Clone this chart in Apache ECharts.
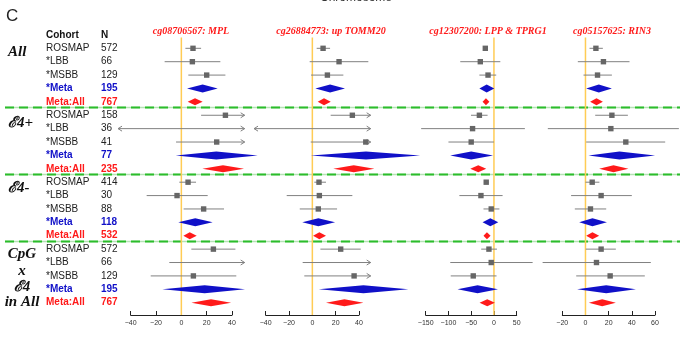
<!DOCTYPE html>
<html>
<head>
<meta charset="utf-8">
<script src="https://cdn.jsdelivr.net/npm/echarts@6/dist/echarts.min.js"></script>
<style>
  html, body { margin: 0; padding: 0; background: #fff; }
  #chart { width: 680px; height: 337px; }
</style>
</head>
<body>
<div id="chart"></div>
<script>
// rows: 4 groups x (ROSMAP, *LBB, *MSBB, *Meta, Meta:All)
var cohorts = ['ROSMAP', '*LBB', '*MSBB', '*Meta', 'Meta:All'];
var sizes = [572, 66, 129, 195, 767, 158, 36, 41, 77, 235, 414, 30, 88, 118, 532, 572, 66, 129, 195, 767];
var groupLines = [['All'], ['\u2130' + '4+'], ['\u2130' + '4-'], ['CpG', 'x', '\u2130' + '4', 'in All']];
var probes = ['cg08706567: MPL', 'cg26884773: up TOMM20', 'cg12307200: LPP & TPRG1', 'cg05157625: RIN3'];

// estimates and CI per probe (null = box not visible)
var mplEst = [9.2, 8.7, 20, 16.8, 10.8, 34.8, null, 27.9, 27.6, 32.9, 5.3, -3.4, 17.6, 11, 6.6, 25.3, null, 9.5, 18.4, 23.4];
var mplLo = [3.2, -13.2, 5.5, 4.5, 5, 15.6, -62, -4.2, -4.4, 16.6, -1.6, -27.4, 1.8, -2.4, 1.6, 7.9, -9.5, -24.2, -15, 7.9];
var mplHi = [15.6, 30.8, 34.8, 28.7, 16.8, 62, 62, 60, 60.3, 49.5, 11.6, 20.8, 33.7, 24.7, 12.1, 42.7, 62, 43.4, 50.3, 39.3];

var tomEst = [9.2, 22.9, 12.9, 15.2, 10, 34.3, null, 45.8, 46, 35.5, 5.7, 6, 5.1, 5.1, 6, 24.3, null, 35.8, 43.8, 27.5];
var tomLo = [3.7, -2.3, -1.1, 2.6, 4.6, 15.7, -62, -1.4, -1.4, 18, 1.7, -22, -10.8, -8.6, 0.6, 6.9, -8.3, -6.9, 5.5, 11.7];
var tomHi = [15.2, 48, 26.6, 28, 15.8, 62, 62, 62, 92.4, 53.2, 11.7, 34.3, 21.2, 19.5, 11.7, 41.5, 62, 62, 82.3, 43.8];

var lppEst = [-19, -30, -13, -16, -17.6, -32, -47, -50, -50, -34.5, -17, -28.6, -6, -8, -15.4, -11, -6, -45.5, -36, -14.7];
var lppLo = [-24, -74, -32, -32, -25, -50.5, -160, -100, -96, -52, -22, -76, -23, -25, -23, -28, -96, -95, -80, -31.6];
var lppHi = [-14, 14, 5, 0.7, -10, -14, 68, 0, -2, -17, -12, 19, 12, 9.5, -7.5, 6.6, 85, 5.7, 8.8, 2];

var rinEst = [9, 15.5, 10.4, 11.5, 9.5, 22.8, 21.9, 34.8, 29.3, 24.2, 5.8, 13.5, 4.3, 6, 6, 13.5, 9.5, 21.3, 17.9, 14.4];
var rinLo = [3.5, -6.6, -1.7, 0.6, 4, 8.4, -32.5, 0.6, 2.6, 11.8, 0, -12.4, -9.2, -5.4, 0.6, 0.3, -37, -8, -7.2, 2.9];
var rinHi = [15, 38, 22.8, 22.8, 15, 36.6, 80.6, 68.8, 60.1, 37.1, 12, 40, 17.9, 18.5, 11.8, 26.2, 56.4, 51.2, 43.5, 26.2];

var panels = [
  { est: mplEst, lo: mplLo, hi: mplHi, min: -40, max: 40, interval: 20, left: 130.7, width: 101.3, clip: 50, cx: 191 },
  { est: tomEst, lo: tomLo, hi: tomHi, min: -40, max: 40, interval: 20, left: 265.7, width: 93.3, clip: 50, cx: 331 },
  { est: lppEst, lo: lppLo, hi: lppHi, min: -150, max: 50, interval: 50, left: 425.7, width: 91, clip: 1e9, cx: 488 },
  { est: rinEst, lo: rinLo, hi: rinHi, min: -20, max: 60, interval: 20, left: 562.3, width: 92.7, clip: 1e9, cx: 612 }
];

var Y_MIN = -0.8, Y_MAX = 19.92, TOP = 37.6, HEIGHT = 277.4;
function rowY(i) { return TOP + (i - Y_MIN) / (Y_MAX - Y_MIN) * HEIGHT; }

var BLUE = '#1010c8', RED = '#ff1a1a';

function makeRender(p) {
  return function (params, api) {
    var i = params.dataIndex;
    var kind = i % 5;
    var y = api.coord([0, i])[1];
    var lo = p.lo[i], hi = p.hi[i], est = p.est[i];
    var kids = [];
    if (kind < 3) {
      var a = Math.max(lo, -p.clip), b = Math.min(hi, p.clip);
      var xa = api.coord([a, i])[0], xb = api.coord([b, i])[0];
      var col = '#808080';
      kids.push({ type: 'line', shape: { x1: xa, y1: y, x2: xb, y2: y }, style: { stroke: col, lineWidth: 1 } });
      if (lo < -p.clip) {
        kids.push({ type: 'polyline', shape: { points: [[xa + 4, y - 2.5], [xa, y], [xa + 4, y + 2.5]] }, style: { stroke: col, lineWidth: 1, fill: null } });
      }
      if (hi > p.clip) {
        kids.push({ type: 'polyline', shape: { points: [[xb - 4, y - 2.5], [xb, y], [xb - 4, y + 2.5]] }, style: { stroke: col, lineWidth: 1, fill: null } });
      }
      if (est != null && est >= -p.clip && est <= p.clip) {
        var xe = api.coord([est, i])[0];
        kids.push({ type: 'rect', shape: { x: xe - 2.7, y: y - 2.7, width: 5.4, height: 5.4 }, style: { fill: '#666666' } });
      }
    } else {
      var h = kind === 3 ? 4 : 3.5;
      var x1 = api.coord([lo, i])[0], x2 = api.coord([hi, i])[0], xm = api.coord([est, i])[0];
      kids.push({
        type: 'polygon',
        shape: { points: [[x1, y], [xm, y - h], [x2, y], [xm, y + h]] },
        style: { fill: kind === 3 ? BLUE : RED }
      });
    }
    return { type: 'group', children: kids };
  };
}

var grids = [], xAxes = [], yAxes = [], series = [];
panels.forEach(function (p, k) {
  grids.push({ left: p.left, width: p.width, top: TOP, height: HEIGHT });
  xAxes.push({
    type: 'value', gridIndex: k, min: p.min, max: p.max, interval: p.interval, position: 'bottom',
    axisLine: { show: true, onZero: false, lineStyle: { color: '#222', width: 1 } },
    axisTick: { show: true, inside: true, length: 4, lineStyle: { color: '#222' } },
    axisLabel: { fontSize: 7, color: '#333', margin: 5, fontFamily: 'Liberation Sans',
      formatter: function (v) { return String(v).replace('-', '\u2212'); } },
    splitLine: { show: false }
  });
  yAxes.push({ type: 'value', gridIndex: k, inverse: true, min: Y_MIN, max: Y_MAX, show: false });
  series.push({
    type: 'line', xAxisIndex: k, yAxisIndex: k, data: [[0, Y_MIN], [0, Y_MAX]],
    symbol: 'none', silent: true, z: 1,
    lineStyle: { color: '#ffcc55', width: 1.5 }
  });
  series.push({
    type: 'custom', xAxisIndex: k, yAxisIndex: k, clip: false, z: 3, silent: true,
    data: p.lo.map(function (v, i) { return [v, i]; }),
    encode: { x: 0, y: 1 },
    renderItem: makeRender(p)
  });
});

var graphic = [];
graphic.push({ type: 'text', left: 6, top: 8, style: { text: 'C', fontSize: 17, fontFamily: 'Liberation Sans', fill: '#222' } });
graphic.push({ type: 'text', x: 356, y: -2, style: { text: 'Chromosome', fontSize: 12, fontFamily: 'Liberation Sans', fill: '#333', align: 'center', verticalAlign: 'middle' } });
graphic.push({ type: 'text', x: 46, y: 35, style: { text: 'Cohort', fontSize: 10, fontWeight: 'bold', fontFamily: 'Liberation Sans', fill: '#111', verticalAlign: 'middle' } });
graphic.push({ type: 'text', x: 101, y: 35, style: { text: 'N', fontSize: 10, fontWeight: 'bold', fontFamily: 'Liberation Sans', fill: '#111', verticalAlign: 'middle' } });

sizes.forEach(function (n, i) {
  var kind = i % 5;
  var col = kind === 3 ? BLUE : kind === 4 ? RED : '#222';
  var fw = kind >= 3 ? 'bold' : 'normal';
  var y = rowY(i);
  graphic.push({ type: 'text', x: 46, y: y, style: { text: cohorts[kind], fontSize: 10, fontWeight: fw, fontFamily: 'Liberation Sans', fill: col, verticalAlign: 'middle' } });
  graphic.push({ type: 'text', x: 101, y: y, style: { text: String(n), fontSize: 10, fontWeight: fw, fontFamily: 'Liberation Sans', fill: col, verticalAlign: 'middle' } });
});

var groupY = [[52], [123], [188], [254, 271, 287, 302]];
groupLines.forEach(function (lines, g) {
  lines.forEach(function (t, j) {
    graphic.push({ type: 'text', x: g === 3 ? 22 : 8, y: groupY[g][j], style: {
      text: t, fontSize: 15, fontWeight: 'bold', fontStyle: 'italic', fontFamily: 'Liberation Serif', fill: '#111',
      align: g === 3 ? 'center' : 'left', verticalAlign: 'middle' } });
  });
});

panels.forEach(function (p, k) {
  graphic.push({ type: 'text', x: p.cx, y: 31, style: {
    text: probes[k], fontSize: 10, fontWeight: 'bold', fontStyle: 'italic', fontFamily: 'Liberation Serif', fill: RED,
    align: 'center', verticalAlign: 'middle' } });
});

[4, 9, 14].forEach(function (r) {
  var y = (rowY(r) + rowY(r + 1)) / 2 - 1;
  graphic.push({ type: 'line', shape: { x1: 5, y1: y, x2: 680, y2: y }, style: { stroke: '#b5e3b5', lineWidth: 1.5 }, z: 0 });
  graphic.push({ type: 'line', shape: { x1: 5, y1: y, x2: 680, y2: y }, style: { stroke: '#2bbd2b', lineWidth: 2, lineDash: [9, 5] }, z: 1 });
});

var myChart = echarts.init(document.getElementById('chart'), null, { renderer: 'canvas' });
myChart.setOption({
  animation: false,
  grid: grids,
  xAxis: xAxes,
  yAxis: yAxes,
  series: series,
  graphic: graphic
});
</script>
</body>
</html>
